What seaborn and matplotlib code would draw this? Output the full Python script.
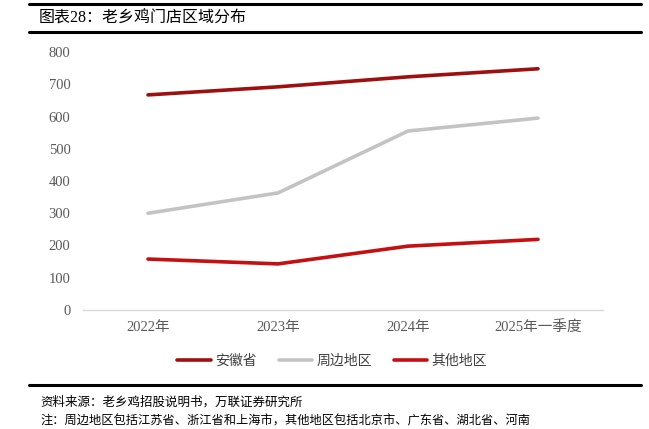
import matplotlib
matplotlib.use("Agg")
import matplotlib.pyplot as plt
import seaborn as sns
import pandas as pd
from matplotlib.lines import Line2D

categories = ["2022年", "2023年", "2024年", "2025年一季度"]
anhui = [667, 692, 723, 748]
zhoubian = [300, 363, 555, 595]
qita = [158, 143, 198, 219]
series_names = ["安徽省", "周边地区", "其他地区"]
colors = ["#9E1010", "#C3C3C3", "#C50F10"]
yticks = [0, 100, 200, 300, 400, 500, 600, 700, 800]

sns.set_theme(style="white")
plt.rcParams['font.family'] = ['Liberation Serif', 'Noto Sans CJK SC', 'DejaVu Sans']

rows = []
for name, vals in zip(series_names, [anhui, zhoubian, qita]):
    for i, (c, v) in enumerate(zip(categories, vals)):
        rows.append({"idx": i, "cat": c, "value": v, "series": name})
df = pd.DataFrame(rows)

fig = plt.figure(figsize=(6.49, 4.29), dpi=100)
ax = fig.add_axes([83/649, 1-310/429, (603-83)/649, (310-52)/429])

sns.lineplot(data=df, x="idx", y="value", hue="series", palette=colors,
             hue_order=series_names, linewidth=2.6, ax=ax, legend=False,
             sort=False)

ax.set_xlim(-0.5, 3.5)
ax.set_ylim(0, 800)
ax.set_yticks(yticks)
ax.set_yticklabels([str(t) for t in yticks], color="#595959", fontsize=10.5)
ax.set_xticks(range(len(categories)))
ax.set_xticklabels(categories, color="#595959", fontsize=10.5)
ax.set_xticks([0.5, 1.5, 2.5, 3.5], minor=True)
ax.tick_params(axis="x", which="major", length=0, pad=8)
ax.tick_params(axis="x", which="minor", length=4, color="#D9D9D9", width=1, direction="out")
ax.tick_params(axis="y", length=0, pad=9)
ax.set_xlabel("")
ax.set_ylabel("")
for s in ["top", "right", "left"]:
    ax.spines[s].set_visible(False)
ax.spines["bottom"].set_color("#D9D9D9")
ax.spines["bottom"].set_linewidth(1)
ax.grid(False)

handles = [Line2D([0], [0], color=c, lw=2.6) for c in colors]
fig.legend(handles, series_names, loc="center", bbox_to_anchor=(332/649, 1-361/429),
           ncol=3, frameon=False, fontsize=10, handlelength=2.4, handletextpad=0.3,
           columnspacing=1.6, labelcolor="#404040")

# header / footer rules
fig.add_artist(Line2D([29/649, 641/649], [1-4/429, 1-4/429], color="black", lw=2.2))
fig.add_artist(Line2D([29/649, 641/649], [1-32/429, 1-32/429], color="black", lw=2.2))
fig.add_artist(Line2D([29/649, 641/649], [1-385/429, 1-385/429], color="black", lw=2.2))

fig.text(39/649, 1-19/429, "图表28：老乡鸡门店区域分布", fontsize=11.5, va="center", ha="left",
         color="black")
fig.text(40/649, 1-402/429, "资料来源：老乡鸡招股说明书，万联证券研究所", fontsize=9,
         va="center", ha="left", color="black", style="italic")
fig.text(40/649, 1-421/429, "注：周边地区包括江苏省、浙江省和上海市，其他地区包括北京市、广东省、湖北省、河南",
         fontsize=8.8, va="center", ha="left", color="black", style="italic")

fig.savefig("out.png", dpi=100)
